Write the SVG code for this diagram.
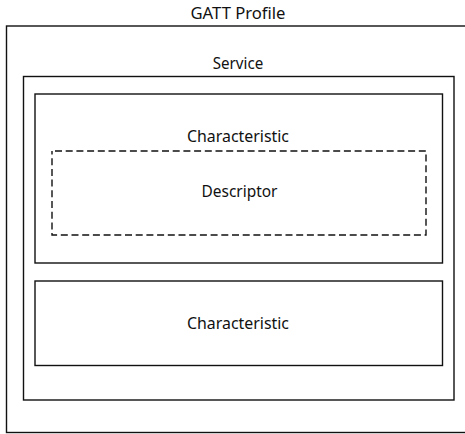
<svg xmlns="http://www.w3.org/2000/svg" width="465" height="434" viewBox="0 0 465 434">
<style>
.box{fill:none;stroke:#111;stroke-width:1.4}
.dash{fill:none;stroke:#111;stroke-width:1.4;stroke-dasharray:7,3.7;stroke-dashoffset:-3}
.lbl{font-family:"Noto Sans","Open Sans",sans-serif;font-size:15.5px;fill:#111;text-anchor:middle}
</style>
<rect width="465" height="434" fill="#fff"/>
<g id="gatt-profile">
<rect class="box" x="6.5" y="26" width="500" height="406.5"/>
<text class="lbl" x="238" y="18.5" textLength="95" lengthAdjust="spacingAndGlyphs">GATT Profile</text>
</g>
<g id="service">
<rect class="box" x="23.5" y="76.5" width="430.5" height="323.5"/>
<text class="lbl" x="238" y="69" textLength="50.5" lengthAdjust="spacingAndGlyphs">Service</text>
</g>
<g id="characteristic-1">
<rect class="box" x="35" y="94" width="407.5" height="169"/>
<text class="lbl" x="238" y="141.5" textLength="102" lengthAdjust="spacingAndGlyphs">Characteristic</text>
</g>
<g id="descriptor">
<rect class="dash" x="52" y="151" width="374" height="84"/>
<text class="lbl" x="239.5" y="197" textLength="76" lengthAdjust="spacingAndGlyphs">Descriptor</text>
</g>
<g id="characteristic-2">
<rect class="box" x="35" y="281" width="407.5" height="84.5"/>
<text class="lbl" x="238" y="329" textLength="102" lengthAdjust="spacingAndGlyphs">Characteristic</text>
</g>
<g id="connectors"/>
</svg>
